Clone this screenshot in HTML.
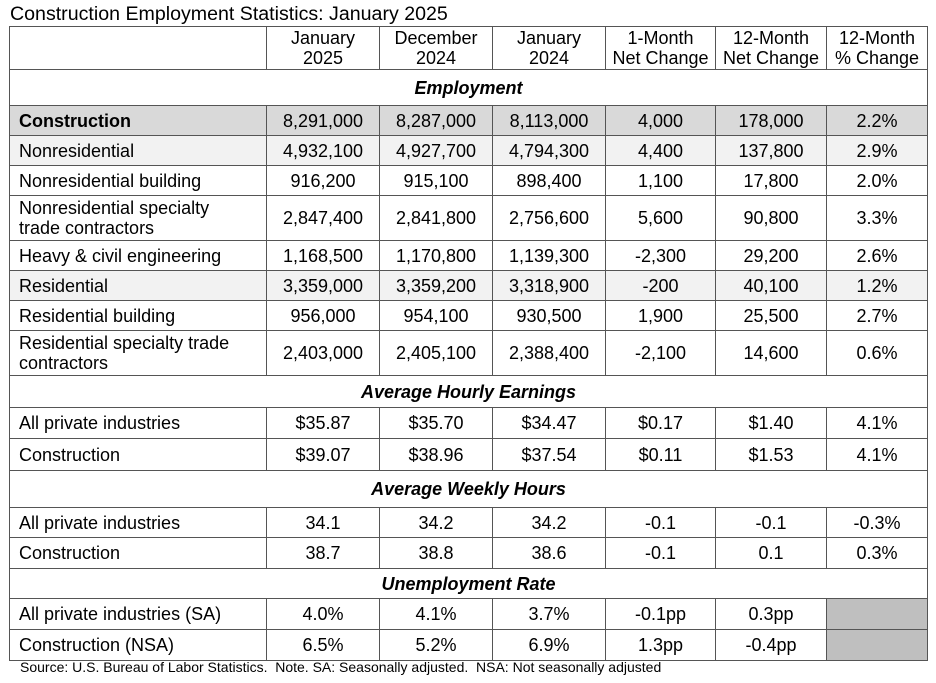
<!DOCTYPE html>
<html><head><style>
body{margin:0;width:936px;height:683px;background:#fff;font-family:"Liberation Sans",Arial,sans-serif;color:#000;position:relative;overflow:hidden}
.title{position:absolute;left:10px;top:3px;font-size:19.6px;line-height:22px}
table{position:absolute;left:9px;top:26px;border-collapse:collapse;table-layout:fixed;font-size:18px}
td{border:1.5px solid #555;padding:0;text-align:center;line-height:20px;overflow:hidden;white-space:nowrap}
td.l{text-align:left;padding-left:9px}
.sec td{font-weight:bold;font-style:italic;text-align:center}
.g1 td{background:#d9d9d9}
.g2 td{background:#f2f2f2}
.gc{background:#bfbfbf}
.src{position:absolute;left:20px;top:659px;font-size:14px}
</style></head><body>
<div class="title">Construction Employment Statistics: January 2025</div>
<table>
<colgroup><col style="width:257px"><col style="width:113px"><col style="width:113px"><col style="width:113px"><col style="width:110px"><col style="width:111px"><col style="width:101px"></colgroup>
<tr style="height:43px"><td></td><td>January<br>2025</td><td>December<br>2024</td><td>January<br>2024</td><td>1-Month<br>Net Change</td><td>12-Month<br>Net Change</td><td>12-Month<br>% Change</td></tr>
<tr class="sec" style="height:36px"><td colspan="7">Employment</td></tr>
<tr class="g1" style="height:30px"><td class="l"><b>Construction</b></td><td>8,291,000</td><td>8,287,000</td><td>8,113,000</td><td>4,000</td><td>178,000</td><td>2.2%</td></tr>
<tr class="g2" style="height:30px"><td class="l">Nonresidential</td><td>4,932,100</td><td>4,927,700</td><td>4,794,300</td><td>4,400</td><td>137,800</td><td>2.9%</td></tr>
<tr style="height:30px"><td class="l">Nonresidential building</td><td>916,200</td><td>915,100</td><td>898,400</td><td>1,100</td><td>17,800</td><td>2.0%</td></tr>
<tr style="height:45px"><td class="l">Nonresidential specialty<br>trade contractors</td><td>2,847,400</td><td>2,841,800</td><td>2,756,600</td><td>5,600</td><td>90,800</td><td>3.3%</td></tr>
<tr style="height:30px"><td class="l">Heavy &amp; civil engineering</td><td>1,168,500</td><td>1,170,800</td><td>1,139,300</td><td>-2,300</td><td>29,200</td><td>2.6%</td></tr>
<tr class="g2" style="height:30px"><td class="l">Residential</td><td>3,359,000</td><td>3,359,200</td><td>3,318,900</td><td>-200</td><td>40,100</td><td>1.2%</td></tr>
<tr style="height:30px"><td class="l">Residential building</td><td>956,000</td><td>954,100</td><td>930,500</td><td>1,900</td><td>25,500</td><td>2.7%</td></tr>
<tr style="height:45px"><td class="l">Residential specialty trade<br>contractors</td><td>2,403,000</td><td>2,405,100</td><td>2,388,400</td><td>-2,100</td><td>14,600</td><td>0.6%</td></tr>
<tr class="sec" style="height:32px"><td colspan="7">Average Hourly Earnings</td></tr>
<tr style="height:31px"><td class="l">All private industries</td><td>$35.87</td><td>$35.70</td><td>$34.47</td><td>$0.17</td><td>$1.40</td><td>4.1%</td></tr>
<tr style="height:32px"><td class="l">Construction</td><td>$39.07</td><td>$38.96</td><td>$37.54</td><td>$0.11</td><td>$1.53</td><td>4.1%</td></tr>
<tr class="sec" style="height:37px"><td colspan="7">Average Weekly Hours</td></tr>
<tr style="height:30px"><td class="l">All private industries</td><td>34.1</td><td>34.2</td><td>34.2</td><td>-0.1</td><td>-0.1</td><td>-0.3%</td></tr>
<tr style="height:31px"><td class="l">Construction</td><td>38.7</td><td>38.8</td><td>38.6</td><td>-0.1</td><td>0.1</td><td>0.3%</td></tr>
<tr class="sec" style="height:30px"><td colspan="7">Unemployment Rate</td></tr>
<tr style="height:31px"><td class="l">All private industries (SA)</td><td>4.0%</td><td>4.1%</td><td>3.7%</td><td>-0.1pp</td><td>0.3pp</td><td class="gc"></td></tr>
<tr style="height:31px"><td class="l">Construction (NSA)</td><td>6.5%</td><td>5.2%</td><td>6.9%</td><td>1.3pp</td><td>-0.4pp</td><td class="gc"></td></tr>
</table>
<div class="src">Source: U.S. Bureau of Labor Statistics.&nbsp; Note. SA: Seasonally adjusted.&nbsp; NSA: Not seasonally adjusted</div>
</body></html>
